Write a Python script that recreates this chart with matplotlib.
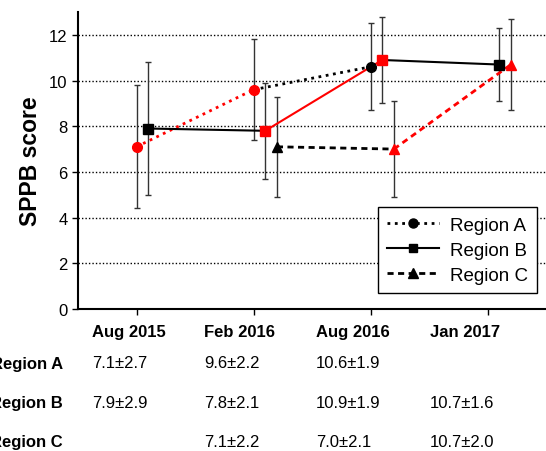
import numpy as np
import matplotlib
matplotlib.use("Agg")
import matplotlib.pyplot as plt
from matplotlib.lines import Line2D

plt.rcParams['font.family'] = ['Liberation Sans', 'DejaVu Sans']

categories = ['Aug 2015', 'Feb 2016', 'Aug 2016', 'Jan 2017']
series_names = ['Region A', 'Region B', 'Region C']

a_mean = [7.1, 9.6, 10.6, np.nan]
a_sd = [2.7, 2.2, 1.9, np.nan]
b_mean = [7.9, 7.8, 10.9, 10.7]
b_sd = [2.9, 2.1, 1.9, 1.6]
c_mean = [np.nan, 7.1, 7.0, 10.7]
c_sd = [np.nan, 2.2, 2.1, 2.0]

# marker colours per time point, segment colours between consecutive points
a_marker_colors = ['red', 'red', 'black', None]
a_segment_colors = ['red', 'black', None]
b_marker_colors = ['black', 'red', 'red', 'black']
b_segment_colors = ['black', 'red', 'black']
c_marker_colors = [None, 'black', 'red', 'red']
c_segment_colors = [None, 'black', 'red']

a_text = ['7.1±2.7', '9.6±2.2', '10.6±1.9', '']
b_text = ['7.9±2.9', '7.8±2.1', '10.9±1.9', '10.7±1.6']
c_text = ['', '7.1±2.2', '7.0±2.1', '10.7±2.0']

W, H = 546, 452
fig = plt.figure(figsize=(W / 100, H / 100), dpi=100)
ax = fig.add_axes([78 / W, 1 - 310 / H, (W - 78) / W, (310 - 13) / H])

x = np.arange(len(categories))
specs = [
    (a_mean, a_sd, a_marker_colors, a_segment_colors, 'o', ':', 0.0, 2.0),
    (b_mean, b_sd, b_marker_colors, b_segment_colors, 's', '-', 0.1, 1.5),
    (c_mean, c_sd, c_marker_colors, c_segment_colors, '^', (0, (2.2, 1.6)), 0.2, 2.0),
]
for mean, sd, mcol, scol, mk, ls, off, lw in specs:
    xs = x + off
    m = np.array(mean, dtype=float)
    s = np.array(sd, dtype=float)
    ax.errorbar(xs, m, yerr=s, fmt='none', ecolor='#333333', elinewidth=1,
                capsize=2.5, capthick=1, zorder=2)
    for i, c in enumerate(scol):
        if c is None:
            continue
        ax.plot(xs[i:i + 2], m[i:i + 2], color=c, linestyle=ls, linewidth=lw,
                zorder=3, dash_capstyle='butt')
    for i, c in enumerate(mcol):
        if c is None:
            continue
        ax.plot(xs[i], m[i], marker=mk, color=c, markersize=7 if mk != 's' else 6.5,
                linestyle='none', zorder=4)

ax.set_xlim(-0.5, 3.5)
ax.set_ylim(0, 13)
ax.set_yticks(np.arange(0, 13, 2))
ax.set_xticks(x)
ax.set_xticklabels([])
ax.tick_params(axis='both', direction='out', length=4, width=1, labelsize=12, colors='black')
for yv in range(2, 13, 2):
    ax.axhline(yv, color='black', linestyle=(0, (1, 1.5)), linewidth=1, zorder=1)
for sp in ['top', 'right']:
    ax.spines[sp].set_visible(False)
for sp in ['left', 'bottom']:
    ax.spines[sp].set_linewidth(1.5)
ax.set_ylabel('SPPB score', fontsize=16.5, fontweight='bold', labelpad=5)

handles = [
    Line2D([], [], color='black', linestyle=':', linewidth=2, marker='o', markersize=6.5),
    Line2D([], [], color='black', linestyle='-', linewidth=1.5, marker='s', markersize=6),
    Line2D([], [], color='black', linestyle=(0, (2.2, 1.6)), linewidth=2, marker='^', markersize=6.5),
]
leg = ax.legend(handles, series_names, loc='lower right', bbox_to_anchor=(0.981, 0.054),
                borderaxespad=0, prop={'size': 13.5}, frameon=True, fancybox=False,
                handlelength=2.8, handletextpad=0.55, labelspacing=0.42, borderpad=0.5)
leg.get_frame().set_edgecolor('black')
leg.get_frame().set_linewidth(1)
leg.get_frame().set_alpha(1)

# table under the plot
col_x = [92, 204, 316, 430]
header_y = 333
row_y = [364, 404, 443]
for cx, cat in zip(col_x, categories):
    fig.text(cx / W, 1 - header_y / H, cat, ha='left', va='center', fontsize=12, fontweight='bold')
for ry, name, texts in zip(row_y, series_names, [a_text, b_text, c_text]):
    fig.text(63 / W, 1 - ry / H, name, ha='right', va='center', fontsize=12, fontweight='bold')
    for cx, t in zip(col_x, texts):
        if t:
            fig.text(cx / W, 1 - ry / H, t, ha='left', va='center', fontsize=12)

fig.savefig('out.png', dpi=100)
